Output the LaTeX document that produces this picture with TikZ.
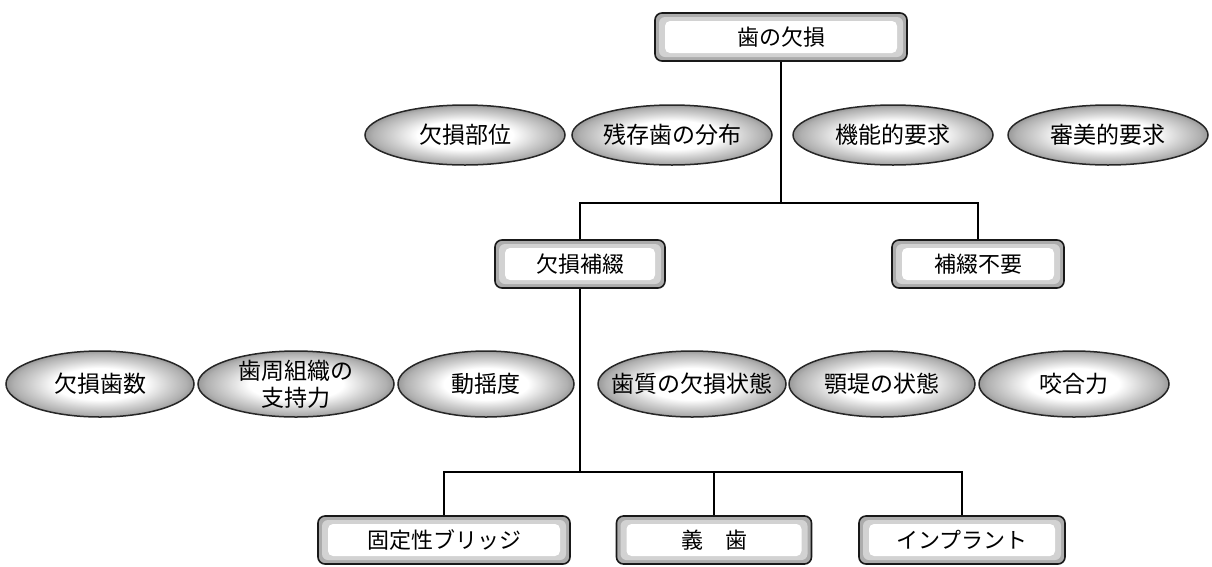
\documentclass[tikz,border=0pt]{standalone}
\usepackage{fontspec}
\setmainfont{Noto Sans CJK JP}
\usetikzlibrary{shapes.geometric}
\pgfdeclareradialshading{ringshade}{\pgfpoint{0bp}{0bp}}{color(0bp)=(white); color(12bp)=(white); color(18bp)=(gray!35); color(23bp)=(gray!62); color(25bp)=(gray!80); color(50bp)=(gray!80)}
\tikzset{
  conn/.style={line width=1.8pt, black},
  ell/.style={ellipse, draw=black!85, line width=1.5pt, shade, shading=ringshade, inner sep=0pt},
  ltext/.style={font=\fontsize{23}{27}\selectfont, align=center, inner sep=0pt},
  rbox/.style={rectangle, rounded corners=7pt, draw=black!90, line width=1.6pt, fill=gray!65,
    minimum height=48pt, inner sep=0pt, font=\fontsize{22}{26}\selectfont,
    path picture={
      \fill[gray!35, rounded corners=6pt] ([shift={(4pt,-4pt)}]path picture bounding box.north west) rectangle ([shift={(-4pt,4pt)}]path picture bounding box.south east);
      \fill[white, rounded corners=5pt] ([shift={(10pt,-8pt)}]path picture bounding box.north west) rectangle ([shift={(-10pt,8pt)}]path picture bounding box.south east);
    }},
}
\begin{document}
\begin{tikzpicture}[x=1pt, y=-1pt]
\useasboundingbox (0,0) rectangle (1212,566);

% junctions
\coordinate (j1) at (781,203);
\coordinate (j2) at (580,472);

% boxes
\node[rbox, minimum width=252pt] (top) at (781,37) {歯の欠損};
\node[rbox, minimum width=170pt] (m1) at (580,264) {欠損補綴};
\node[rbox, minimum width=172pt] (m2) at (978,264) {補綴不要};
\node[rbox, minimum width=252pt] (b1) at (444,540) {固定性ブリッジ};
\node[rbox, minimum width=195pt] (b2) at (714,540) {義\hspace{1em}歯};
\node[rbox, minimum width=206pt] (b3) at (962,540) {インプラント};

% connectors
\draw[conn] (top.south) -- (j1);
\draw[conn] (m1.north) |- (j1) -| (m2.north);
\draw[conn] (m1.south) -- (j2);
\draw[conn] (b1.north) |- (j2) -| (b3.north);
\draw[conn] (b2.north) -- (b2.north |- j2);

% row 1 ellipses
\node[ell, minimum width=200pt, minimum height=60pt, label={[ltext]center:欠損部位}] (e1) at (465,135) {};
\node[ell, minimum width=200pt, minimum height=60pt, label={[ltext]center:残存歯の分布}] (e2) at (672,135) {};
\node[ell, minimum width=200pt, minimum height=60pt, label={[ltext]center:機能的要求}] (e3) at (893,135) {};
\node[ell, minimum width=200pt, minimum height=60pt, label={[ltext]center:審美的要求}] (e4) at (1108,135) {};

% row 2 ellipses
\node[ell, minimum width=188pt, minimum height=66pt, label={[ltext]center:欠損歯数}] (f1) at (100,384) {};
\node[ell, minimum width=196pt, minimum height=66pt, label={[ltext]center:{歯周組織の\\支持力}}] (f2) at (296,384) {};
\node[ell, minimum width=176pt, minimum height=66pt, label={[ltext]center:動揺度}] (f3) at (486,384) {};
\node[ell, minimum width=188pt, minimum height=66pt, label={[ltext]center:歯質の欠損状態}] (f4) at (692,384) {};
\node[ell, minimum width=186pt, minimum height=66pt, label={[ltext]center:顎堤の状態}] (f5) at (882,384) {};
\node[ell, minimum width=190pt, minimum height=66pt, label={[ltext]center:咬合力}] (f6) at (1074,384) {};
\end{tikzpicture}
\end{document}
